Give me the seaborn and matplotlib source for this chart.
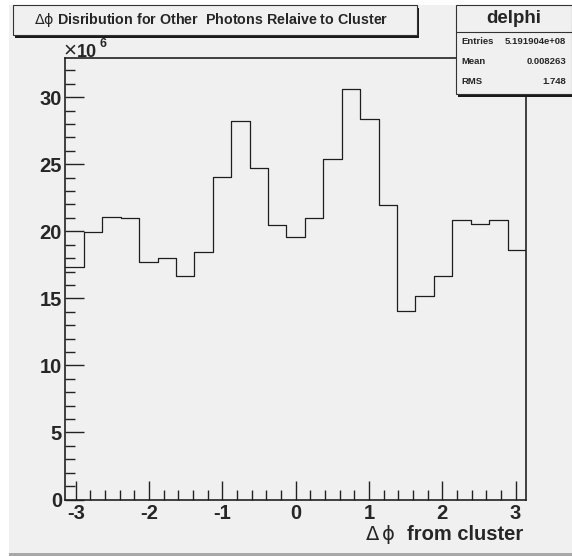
import numpy as np
import pandas as pd
import matplotlib
matplotlib.use("Agg")
import matplotlib.pyplot as plt
from matplotlib.patches import Rectangle
from matplotlib.ticker import MultipleLocator
import seaborn as sns

# Histogram contents (units of 10^6 entries), 25 equal bins over [-pi, pi]
n_bins = 25
counts_millions = [17.31, 19.97, 21.09, 20.97, 17.69, 17.99, 16.69, 18.47, 24.02,
                   28.22, 24.70, 20.44, 19.57, 20.97, 25.39, 30.62, 28.34, 21.94,
                   14.07, 15.19, 16.69, 20.84, 20.52, 20.84, 18.59]
x_ticks = [-3, -2, -1, 0, 1, 2, 3]
y_ticks = [0, 5, 10, 15, 20, 25, 30]

title_text = r"$\mathrm{\Delta\phi}$ Disribution for Other  Photons Relaive to Cluster"
stats_name = "delphi"
stats_rows = [("Entries", "5.191904e+08"), ("Mean", "0.008263"), ("RMS", "1.748")]
x_label_symbol = r"$\mathrm{\Delta}\,\mathrm{\phi}$"
x_label_words = "from cluster"

edges = np.linspace(-np.pi, np.pi, n_bins + 1)
centers = 0.5 * (edges[:-1] + edges[1:])
df = pd.DataFrame({"dphi": centers, "count": counts_millions})

sns.set_theme(style="white")
plt.rcParams["font.family"] = ["Liberation Sans", "DejaVu Sans"]
plt.rcParams["mathtext.fontset"] = "dejavusans"

W, H = 572, 556
fig = plt.figure(figsize=(W / 100, H / 100), dpi=100)
fig.patch.set_facecolor("white")

def fx(px):
    return px / W

def fy(py):
    return 1 - py / H

bg = "#f0f0f0"
# canvas panel and its lower bevel
fig.patches.append(Rectangle((fx(9), fy(553)), fx(W - 9), (553 - 5) / H,
                             transform=fig.transFigure, facecolor=bg,
                             edgecolor="none", zorder=-10))
fig.patches.append(Rectangle((fx(9), fy(556)), fx(W - 9), 3 / H,
                             transform=fig.transFigure, facecolor="#a8a8a8",
                             edgecolor="none", zorder=-10))

ax = fig.add_axes([fx(65.4), fy(499.5), fx(526 - 65.4), (499.5 - 58.3) / H])
ax.set_facecolor(bg)

sns.histplot(data=df, x="dphi", weights="count", bins=[float(e) for e in edges],
             element="step", fill=False, color="#1e1e1e", linewidth=0.9, ax=ax)

ax.set_xlim(-np.pi, np.pi)
ax.set_ylim(0, 32.9)
ax.set_xticks(x_ticks)
ax.set_yticks(y_ticks)
ax.xaxis.set_minor_locator(MultipleLocator(0.2))
ax.yaxis.set_minor_locator(MultipleLocator(1))
ax.tick_params(which="major", direction="in", length=14, width=1, color="#222222",
               bottom=True, left=True, top=False, right=False, pad=3,
               labelsize=14.5)
ax.tick_params(which="minor", direction="in", length=7, width=1, color="#222222",
               bottom=True, left=True, top=False, right=False)
ax.tick_params(axis="y", which="major", pad=2.5)
ax.set_xticklabels([str(t) for t in x_ticks], fontweight="bold")
ax.set_yticklabels([str(t) for t in y_ticks], fontweight="bold")
for s in ax.spines.values():
    s.set_color("#222222")
    s.set_linewidth(1.2)
ax.set_xlabel("")
ax.set_ylabel("")

# x axis title, right aligned: symbols in regular weight, words in bold
words = fig.text(fx(523), fy(535), x_label_words, ha="right", va="center",
                 fontsize=14.5, fontweight="bold")
fig.canvas.draw()
wb = words.get_window_extent()
fig.text(fx(wb.x0 - 11), fy(535), x_label_symbol, ha="right", va="center",
         fontsize=14)

# axis multiplier
fig.text(fx(63), fy(56), "\u00d7", ha="left", va="baseline", fontsize=16)
fig.text(fx(76.5), fy(57), "10", ha="left", va="baseline", fontsize=13,
         fontweight="bold")
fig.text(fx(99.5), fy(47), "6", ha="left", va="baseline", fontsize=9,
         fontweight="bold")

# title box with shadow
fig.patches.append(Rectangle((fx(15), fy(38)), fx(416.7 - 13), 30 / H,
                             transform=fig.transFigure, facecolor="#1a1a1a",
                             edgecolor="none", zorder=5))
fig.patches.append(Rectangle((fx(13), fy(35)), fx(416.7 - 13), 30 / H,
                             transform=fig.transFigure, facecolor=bg,
                             edgecolor="#333333", linewidth=0.8, zorder=6))
fig.text(fx(211), fy(20), title_text, ha="center", va="center", fontsize=10.3,
         fontweight="bold", zorder=7)

# statistics box
fig.patches.append(Rectangle((fx(458), fy(97)), fx(W - 456), (94.5 - 5) / H,
                             transform=fig.transFigure, facecolor="#1a1a1a",
                             edgecolor="none", zorder=5))
fig.patches.append(Rectangle((fx(456), fy(94.5)), fx(W - 456), (94.5 - 5) / H,
                             transform=fig.transFigure, facecolor=bg,
                             edgecolor="#333333", linewidth=0.8, zorder=6))
fig.lines.append(plt.Line2D([fx(456), fx(W)], [fy(32.3), fy(32.3)],
                            transform=fig.transFigure, color="#333333",
                            linewidth=0.8, zorder=7))
fig.text(fx(514), fy(18.5), stats_name, ha="center", va="center", fontsize=13.5,
         fontweight="bold", zorder=7)
for (name, val), py in zip(stats_rows, [41, 62, 82]):
    fig.text(fx(461.5), fy(py), name, ha="left", va="center", fontsize=6.8,
             fontweight="bold", zorder=7)
    fig.text(fx(566), fy(py), val, ha="right", va="center", fontsize=6.8,
             fontweight="bold", zorder=7)

fig.savefig("out.png", dpi=100, facecolor=fig.get_facecolor())
